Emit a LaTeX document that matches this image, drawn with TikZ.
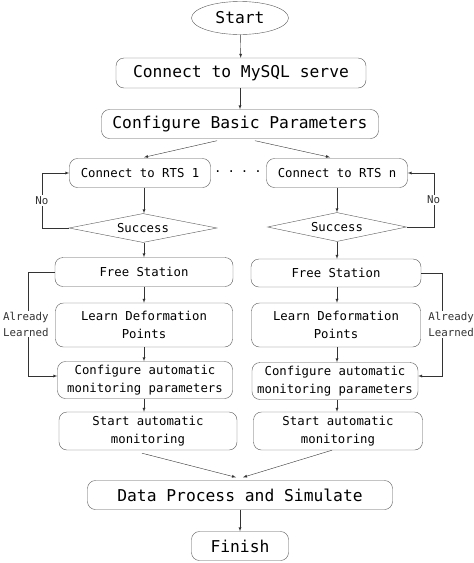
\documentclass[tikz,border=0pt]{standalone}
\usepackage{fontspec}
\setmainfont{DejaVu Sans Mono}
\usepackage{tikz}
\usetikzlibrary{arrows, shapes.geometric, calc}

\tikzset{
  box/.style={draw=black!65, rounded corners=8pt, inner sep=0pt, align=center},
  bigbox/.style={box, font=\fontsize{16.3}{19}\selectfont},
  smallbox/.style={box, font=\fontsize{12.3}{18}\selectfont},
  note/.style={fill=white, inner sep=1pt, align=left, font=\fontsize{10.8}{16}\selectfont},
  arr/.style={->, >=latex, black!80}
}

\begin{document}
\begin{tikzpicture}[x=1pt, y=-1pt]
  \useasboundingbox (0,0) rectangle (474,563);
  \node[ellipse, draw=black!65, inner sep=0pt, minimum width=97pt, minimum height=33pt, font=\fontsize{16.3}{19}\selectfont] at (240,18) (start) {Start};
  \node[bigbox, minimum width=250pt, minimum height=30pt] at (241,73) (mysql) {Connect to MySQL serve};
  \node[bigbox, minimum width=277pt, minimum height=29pt] at (240,124) (basic) {Configure Basic Parameters};
  \draw[arr] (start) -- (mysql);
  \draw[arr] (mysql.south -| basic) -- (basic);

  % two stations
  \node[smallbox, minimum width=141pt, minimum height=29pt] at (140,173) (rts1) {Connect to RTS 1};
  \node[smallbox, minimum width=141pt, minimum height=29pt] at (337,173) (rtsn) {Connect to RTS n};
  \node[font=\fontsize{12.3}{18}\selectfont] at (238,172) (dots) {.\hspace{6pt}.\hspace{6pt}.\hspace{6pt}.};
  \draw[arr] ($(basic.south)+(-23,2)$) -- ($(rts1.north)+(4,-1)$);
  \draw[arr] ($(basic.south)+(15,2)$) -- ($(rtsn.north)+(-7,-1)$);

  \node[diamond, aspect=5, draw=black!65, inner sep=0pt, minimum width=148pt, minimum height=29pt, font=\fontsize{12.3}{18}\selectfont] at (143,228) (ok1) {Success};
  \node[diamond, aspect=5, draw=black!65, inner sep=0pt, minimum width=139pt, minimum height=29pt, font=\fontsize{12.3}{18}\selectfont] at (337,227) (okn) {Success};
  \draw[arr] (rts1.south -| 144,0) -- (ok1.north -| 144,0);
  \draw[arr] (rtsn.south -| okn) -- (okn.north);
  \draw[arr] (ok1.west) -- ++(-27,0) |- node[pos=0.25, note]{No} (rts1.west);
  \draw[arr] (okn.east) -- ++(27,0) |- node[pos=0.25, note]{No} (rtsn.east);

  \node[smallbox, minimum width=178pt, minimum height=29pt] at (144,272) (free1) {Free Station};
  \node[smallbox, minimum width=170pt, minimum height=28pt] at (336,273) (freen) {Free Station};
  \node[smallbox, minimum width=177pt, minimum height=44pt] at (144,325) (learn1) {Learn Deformation\\Points};
  \node[smallbox, minimum width=169pt, minimum height=44pt] at (336,325) (learnn) {Learn Deformation\\Points};
  \node[smallbox, minimum width=175pt, minimum height=37pt] at (145,380) (conf1) {Configure automatic\\monitoring parameters};
  \node[smallbox, minimum width=166pt, minimum height=37pt] at (335,381) (confn) {Configure automatic\\monitoring parameters};
  \node[smallbox, minimum width=178pt, minimum height=38pt] at (148,431) (mon1) {Start automatic\\monitoring};
  \node[smallbox, minimum width=169pt, minimum height=38pt] at (338,431) (monn) {Start automatic\\monitoring};

  \draw[arr] (ok1.south -| free1) -- (free1.north);
  \draw[arr] (okn.south -| 337,0) -- (freen.north -| 337,0);
  \draw[arr] (free1) -- (learn1);
  \draw[arr] (freen.south -| 337,0) -- (learnn.north -| 337,0);
  \draw[arr] (learn1.south -| free1) -- (conf1.north -| free1);
  \draw[arr] (learnn.south -| 337,0) -- (confn.north -| 337,0);
  \draw[arr] (conf1.south -| free1) -- (mon1.north -| free1);
  \draw[arr] (confn.south -| 337,0) -- (monn.north -| 337,0);
  \draw[arr] (free1.west) -- ++(-27,0) |- node[pos=0.25, note, xshift=-2pt]{Already\\Learned} ($(conf1.west)+(0,-4)$);
  \draw[arr] (freen.east) -- ++(21,0) |- node[pos=0.25, note, xshift=9pt]{Already\\Learned} ($(confn.east)+(0,-5)$);

  \node[bigbox, minimum width=305pt, minimum height=29pt] at (240,495) (data) {Data Process and Simulate};
  \node[bigbox, minimum width=97pt, minimum height=29pt] at (240,546) (finish) {Finish};
  \draw[arr] ($(mon1.south)+(-6,3)$) -- ($(data.north)+(-4,-3)$);
  \draw[arr] ($(monn.south)+(-6,0)$) -- ($(data.north)+(3,-3)$);
  \draw[arr] (data) -- (finish);
\end{tikzpicture}
\end{document}
